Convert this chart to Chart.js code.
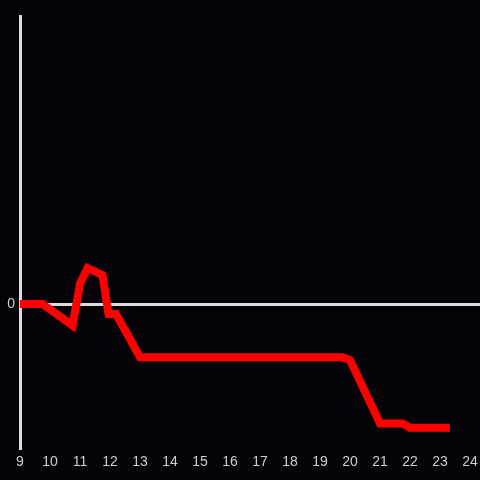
<!DOCTYPE html>
<html>
<head>
<meta charset="utf-8">
<script src="https://cdn.jsdelivr.net/npm/chart.js@4/dist/chart.umd.min.js"></script>
<style>
  html, body { margin: 0; padding: 0; background: #050307; }
  #wrap { width: 480px; height: 480px; }
</style>
</head>
<body>
<div id="wrap"><canvas id="grafico"></canvas></div>
<script>
// Datos (hora del día, valor)
const horas   = [9, 9.75, 10.75, 11, 11.25, 11.75, 11.95, 12.2, 13, 19.75, 20, 21, 21.75, 22, 23.33];
const valores = [0, 0, -0.15, 0.14, 0.25, 0.2, -0.07, -0.07, -0.37, -0.37, -0.39, -0.83, -0.83, -0.86, -0.86];
const ticksX  = [9, 10, 11, 12, 13, 14, 15, 16, 17, 18, 19, 20, 21, 22, 23, 24];
const ticksY  = [0];

const colorEje = '#dcdcdc';
const colorTexto = '#cfcfcf';

const puntos = horas.map(function (h, i) {
    return { x: h, y: valores[i] };
});

new Chart(document.getElementById('grafico'), {
    type: 'line',
    data: {
        datasets: [{
            data: puntos,
            borderColor: '#ff0000',
            borderWidth: 8,
            pointRadius: 0,
            tension: 0,
            fill: false
        }]
    },
    options: {
        responsive: true,
        maintainAspectRatio: false,
        animation: false,
        layout: { padding: { top: 16, right: 0, left: 0, bottom: 0 } },
        plugins: {
            legend: { display: false },
            tooltip: { enabled: false }
        },
        scales: {
            x: {
                type: 'linear',
                min: 9,
                max: 24.333,
                afterBuildTicks: function (scale) {
                    scale.ticks = ticksX.map(function (v) { return { value: v }; });
                },
                afterFit: function (scale) {
                    scale.height = 32;
                    scale.paddingLeft = 0;
                    scale.paddingRight = 0;
                },
                border: { display: false },
                grid: { display: false, drawTicks: false },
                ticks: {
                    color: colorTexto,
                    padding: 6,
                    maxRotation: 0,
                    autoSkip: false,
                    font: { family: 'Liberation Sans, Arial, sans-serif', size: 14 }
                }
            },
            y: {
                min: -1,
                max: 2,
                afterBuildTicks: function (scale) {
                    scale.ticks = ticksY.map(function (v) { return { value: v }; });
                },
                afterFit: function (scale) { scale.width = 20; },
                border: { display: true, color: colorEje, width: 3 },
                grid: { color: colorEje, lineWidth: 3, drawTicks: false },
                ticks: {
                    color: colorTexto,
                    padding: 5,
                    font: { family: 'Liberation Sans, Arial, sans-serif', size: 14 }
                }
            }
        }
    }
});
</script>
</body>
</html>
